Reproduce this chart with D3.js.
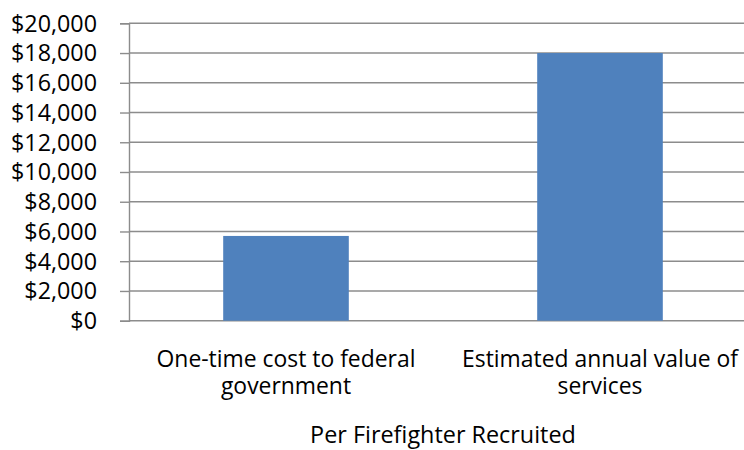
<!DOCTYPE html>
<html>
<head>
<meta charset="utf-8">
<script src="https://cdn.jsdelivr.net/npm/d3@7"></script>
<style>
  html, body { margin: 0; padding: 0; background: #fff; }
  svg { display: block; }
  text { font-family: "Open Sans", "Noto Sans", sans-serif; fill: #000; }
</style>
</head>
<body>
<svg id="chart" width="744" height="450"></svg>
<script>
// Cost vs. value per firefighter recruited
const categories = [
  ["One-time cost to federal", "government"],
  ["Estimated annual value of", "services"]
];
const values = [5700, 18000];
const yTicks = [0, 2000, 4000, 6000, 8000, 10000, 12000, 14000, 16000, 18000, 20000];
const axisTitle = "Per Firefighter Recruited";

const svg = d3.select("#chart");
const plot = { left: 129, right: 757, top: 23.3, bottom: 320.7 };
const gridColor = "#8c8c8c";

const x = d3.scaleBand()
  .domain(d3.range(categories.length))
  .range([plot.left, plot.right])
  .paddingInner(0.6)
  .paddingOuter(0.3);

const y = d3.scaleLinear()
  .domain([0, 20000])
  .range([plot.bottom, plot.top]);

const fmt = v => "$" + d3.format(",")(v);

// horizontal gridlines (including the baseline)
svg.append("g")
  .selectAll("line")
  .data(yTicks)
  .join("line")
  .attr("x1", plot.left)
  .attr("x2", plot.right)
  .attr("y1", d => y(d))
  .attr("y2", d => y(d))
  .attr("stroke", gridColor)
  .attr("stroke-width", 1.4);

// bars
svg.append("g")
  .selectAll("rect")
  .data(values)
  .join("rect")
  .attr("x", (d, i) => x(i))
  .attr("width", x.bandwidth())
  .attr("y", d => y(d))
  .attr("height", d => y(0) - y(d))
  .attr("fill", "#4f81bd");

// value axis
const yAxis = d3.axisLeft(y)
  .tickValues(yTicks)
  .tickFormat(fmt)
  .tickSize(9)
  .tickPadding(23);

const gy = svg.append("g")
  .attr("transform", `translate(${plot.left},0)`)
  .call(yAxis);
gy.select(".domain").attr("stroke", gridColor).attr("stroke-width", 1.4);
gy.selectAll(".tick line").attr("stroke", gridColor).attr("stroke-width", 1.4);
gy.selectAll(".tick text")
  .attr("font-size", 23.3)
  .attr("font-family", "'Open Sans', sans-serif")
  .attr("fill", "#000")
  .attr("dy", "0.34em");

// category labels, two lines each
const catG = svg.append("g");
categories.forEach((lines, i) => {
  const cx = x(i) + x.bandwidth() / 2;
  lines.forEach((ln, j) => {
    catG.append("text")
      .attr("x", cx)
      .attr("y", 367 + j * 27.3)
      .attr("text-anchor", "middle")
      .attr("font-size", 22.9)
      .text(ln);
  });
});

// axis title
svg.append("text")
  .attr("x", (plot.left + plot.right) / 2)
  .attr("y", 443)
  .attr("text-anchor", "middle")
  .attr("font-size", 23.4)
  .text(axisTitle);
</script>
</body>
</html>
